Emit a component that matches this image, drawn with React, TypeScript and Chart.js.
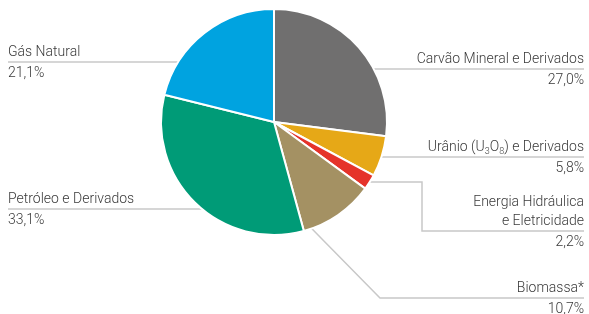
import React, { useEffect, useRef } from "react";
import { Chart, registerables } from "chart.js";

Chart.register(...registerables);

const categories = [
  "Carvão Mineral e Derivados",
  "Urânio (U3O8) e Derivados",
  "Energia Hidráulica e Eletricidade",
  "Biomassa*",
  "Petróleo e Derivados",
  "Gás Natural",
];
const values = [27.0, 5.8, 2.2, 10.7, 33.1, 21.1];
const percentLabels = ["27,0%", "5,8%", "2,2%", "10,7%", "33,1%", "21,1%"];
const colors = ["#706f6f", "#e6a817", "#e5332a", "#a49163", "#009b77", "#00a3e0"];

type Seg = { t: string; sub?: boolean };
// label text lines (with subscripts for U3O8)
const labelLines: Seg[][][] = [
  [[{ t: "Carvão Mineral e Derivados" }]],
  [[{ t: "Urânio (U" }, { t: "3", sub: true }, { t: "O" }, { t: "8", sub: true }, { t: ") e Derivados" }]],
  [[{ t: "Energia Hidráulica" }], [{ t: "e Eletricidade" }]],
  [[{ t: "Biomassa*" }]],
  [[{ t: "Petróleo e Derivados" }]],
  [[{ t: "Gás Natural" }]],
];

// layout for leader lines (pixel layout, not data)
type Leader = { side: "left" | "right"; startY: number; elbowX?: number; lineY: number };
const leaders: Leader[] = [
  { side: "right", startY: 69, lineY: 69 },
  { side: "right", startY: 157, lineY: 157 },
  { side: "right", startY: 182, elbowX: 422, lineY: 231 },
  { side: "right", startY: 228, elbowX: 380, lineY: 298 },
  { side: "left", startY: 209, lineY: 209 },
  { side: "left", startY: 62, lineY: 62 },
];

const FONT = "300 14px Roboto";
const SUBFONT = "300 9px Roboto";
const TEXT_COLOR = "#3a3a3a";
const LINE_COLOR = "#c8c8c8";
const LEFT_X = 8;
const RIGHT_X = 584;
const LINE_H = 19;

function segWidth(ctx: CanvasRenderingContext2D, segs: Seg[]) {
  let w = 0;
  for (const s of segs) {
    ctx.font = s.sub ? SUBFONT : FONT;
    w += ctx.measureText(s.t).width;
  }
  return w;
}

function drawSegs(ctx: CanvasRenderingContext2D, segs: Seg[], x: number, y: number) {
  let cx = x;
  for (const s of segs) {
    ctx.font = s.sub ? SUBFONT : FONT;
    ctx.textAlign = "left";
    ctx.fillText(s.t, cx, s.sub ? y + 3 : y);
    cx += ctx.measureText(s.t).width;
  }
}

const leaderPlugin = {
  id: "leaders",
  beforeDatasetsDraw(chart: any) {
    const ctx: CanvasRenderingContext2D = chart.ctx;
    const arc = chart.getDatasetMeta(0).data[0];
    if (!arc) return;
    const cx = arc.x, cy = arc.y, r = arc.outerRadius;
    ctx.save();
    ctx.strokeStyle = LINE_COLOR;
    ctx.lineWidth = 1.5;
    leaders.forEach((L) => {
      const dy = L.startY - cy;
      const dx = Math.sqrt(Math.max(r * r - dy * dy, 0)) - 2;
      const sx = L.side === "right" ? cx + dx : cx - dx;
      ctx.beginPath();
      ctx.moveTo(sx, L.startY);
      if (L.elbowX !== undefined) {
        if (L.lineY - L.startY > 60) {
          ctx.lineTo(L.elbowX, L.lineY);
        } else {
          ctx.lineTo(L.elbowX, L.startY);
          ctx.lineTo(L.elbowX, L.lineY);
        }
      }
      ctx.lineTo(L.side === "right" ? RIGHT_X : LEFT_X, L.lineY);
      ctx.stroke();
    });
    ctx.restore();
  },
  afterDraw(chart: any) {
    const ctx: CanvasRenderingContext2D = chart.ctx;
    ctx.save();
    ctx.fillStyle = TEXT_COLOR;
    ctx.textBaseline = "alphabetic";
    leaders.forEach((L, i) => {
      const lines = labelLines[i];
      const n = lines.length;
      lines.forEach((segs, j) => {
        const y = L.lineY - 6 - (n - 1 - j) * LINE_H;
        const w = segWidth(ctx, segs);
        const x = L.side === "right" ? RIGHT_X - w : LEFT_X;
        drawSegs(ctx, segs, x, y);
      });
      ctx.font = FONT;
      ctx.textAlign = L.side === "right" ? "right" : "left";
      ctx.fillText(percentLabels[i], L.side === "right" ? RIGHT_X : LEFT_X, L.lineY + 15);
    });
    ctx.restore();
  },
};

export default function App() {
  const ref = useRef<HTMLCanvasElement | null>(null);
  useEffect(() => {
    document.body.style.margin = "0";
    if (!ref.current) return;
    const chart = new Chart(ref.current, {
      type: "pie",
      data: {
        labels: categories,
        datasets: [
          {
            data: values,
            backgroundColor: colors,
            borderColor: "#ffffff",
            borderWidth: 2,
          },
        ],
      },
      options: {
        animation: false,
        responsive: false,
        maintainAspectRatio: false,
        layout: { padding: { left: 0, right: 41, top: 8, bottom: 78 } },
        plugins: {
          legend: { display: false },
          tooltip: { enabled: false },
        },
      },
      plugins: [leaderPlugin],
    });
    return () => chart.destroy();
  }, []);
  return (
    <div style={{ width: 589, height: 314, position: "relative" }}>
      <canvas ref={ref} width={589} height={314} style={{ display: "block" }} />
    </div>
  );
}
